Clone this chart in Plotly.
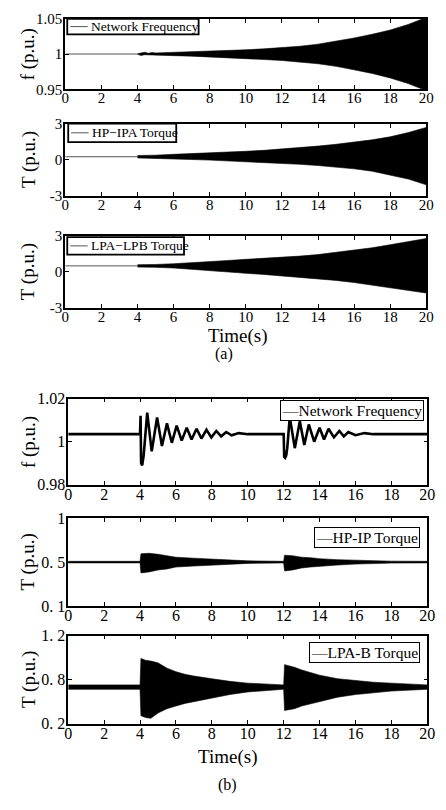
import plotly.graph_objects as go

W, H = 446, 810

# ---------------- data ----------------
# (a) growing oscillation: flat part then envelope
a_pre_t = [0, 4]
a1_pre = [1.0, 1.0]
a2_pre = [0.25, 0.25]
a3_pre = [0.5, 0.5]

a1_env_t = [4.0, 4.2, 4.4, 4.6, 4.8, 5.0, 6, 7, 8, 9, 10, 11, 12, 13, 14, 15, 16, 17, 18, 19, 20]
a1_upper = [1.0005, 1.001, 1.0025, 1.001, 1.002, 1.0015, 1.0023, 1.003, 1.0037, 1.0048, 1.006, 1.0073,
            1.0088, 1.011, 1.014, 1.018, 1.0227, 1.028, 1.034, 1.042, 1.052]
a1_lower = [0.9995, 0.998, 0.999, 0.9985, 0.999, 0.9985, 0.9977, 0.997, 0.996, 0.995, 0.9936, 0.9922,
            0.9908, 0.989, 0.9862, 0.9825, 0.9775, 0.9725, 0.966, 0.958, 0.948]

a_env_t = [4.0, 4.5, 5, 6, 7, 8, 9, 10, 11, 12, 13, 14, 15, 16, 17, 18, 19, 20]
a2_upper = [0.35, 0.35, 0.38, 0.45, 0.5, 0.55, 0.62, 0.7, 0.78, 0.88, 1.0, 1.13, 1.28, 1.45, 1.65, 1.9, 2.25, 2.68]
a2_lower = [0.15, 0.13, 0.1, 0.06, 0.02, -0.03, -0.09, -0.15, -0.22, -0.3, -0.38, -0.48, -0.6, -0.75, -0.95, -1.25, -1.6, -2.08]
a3_upper = [0.6, 0.6, 0.62, 0.68, 0.75, 0.85, 0.95, 1.05, 1.12, 1.2, 1.32, 1.45, 1.62, 1.8, 2.02, 2.28, 2.55, 2.8]
a3_lower = [0.4, 0.4, 0.38, 0.32, 0.22, 0.12, 0.0, -0.12, -0.22, -0.33, -0.45, -0.58, -0.72, -0.9, -1.1, -1.33, -1.55, -1.78]

# (b) damped oscillations after faults at 4 s and 12 s
b1_t = [0, 4.0, 4.03, 4.06, 4.12, 4.2, 4.4, 4.65, 4.95, 5.22, 5.5, 5.77, 6.04, 6.32, 6.6, 6.87, 7.15,
        7.42, 7.7, 7.97, 8.25, 8.52, 8.8, 9.1, 9.5, 10, 12.0, 12.03, 12.08, 12.14, 12.2, 12.34, 12.62,
        12.9, 13.15, 13.4, 13.7, 14.0, 14.25, 14.5, 14.8, 15.1, 15.35, 15.6, 16, 16.5, 17, 20]
b1_f = [1.0035, 1.0035, 1.012, 0.990, 0.989, 0.9935, 1.0135, 0.9955, 1.0112, 0.998, 1.0085, 0.9995,
        1.0075, 1.0005, 1.0065, 1.001, 1.006, 1.0015, 1.0055, 1.002, 1.005, 1.0025, 1.0045, 1.003,
        1.004, 1.0035, 1.0035, 0.993, 0.9925, 0.9935, 0.997, 1.0115, 0.997, 1.0095, 0.9985, 1.008,
        1.0, 1.0065, 1.001, 1.006, 1.002, 1.005, 1.0025, 1.0045, 1.003, 1.004, 1.0035, 1.0035]

b2_t = [0, 4.0, 4.05, 4.5, 5, 5.5, 6, 7, 8, 9, 10, 12.0, 12.05, 12.5, 13, 13.5, 14, 15, 16, 17, 18, 20]
b2_upper = [0.558, 0.558, 0.635, 0.64, 0.63, 0.615, 0.60, 0.59, 0.58, 0.57, 0.563, 0.558, 0.62, 0.615,
            0.60, 0.595, 0.585, 0.575, 0.568, 0.563, 0.56, 0.558]
b2_lower = [0.542, 0.542, 0.44, 0.45, 0.47, 0.48, 0.50, 0.51, 0.52, 0.53, 0.537, 0.542, 0.46, 0.47,
            0.49, 0.50, 0.51, 0.52, 0.53, 0.537, 0.54, 0.542]

b3_t = [0, 4.0, 4.05, 4.3, 4.6, 5, 5.5, 6, 6.5, 7, 8, 9, 10, 11, 12.0, 12.05, 12.3, 12.6, 13, 13.5,
        14, 15, 16, 17, 18, 19, 20]
b3_upper = [0.64, 0.64, 0.94, 0.92, 0.91, 0.89, 0.83, 0.79, 0.76, 0.74, 0.71, 0.68, 0.66, 0.65, 0.64,
            0.87, 0.86, 0.84, 0.81, 0.78, 0.75, 0.71, 0.69, 0.67, 0.66, 0.65, 0.64]
b3_lower = [0.59, 0.59, 0.29, 0.27, 0.26, 0.32, 0.37, 0.40, 0.43, 0.45, 0.49, 0.53, 0.56, 0.575, 0.59,
            0.35, 0.36, 0.37, 0.40, 0.43, 0.45, 0.50, 0.53, 0.55, 0.57, 0.58, 0.59]

x_ticks = [0, 2, 4, 6, 8, 10, 12, 14, 16, 18, 20]
a1_yticks, a1_ytext = [0.95, 1.0, 1.05], ["0.95", "1", "1.05"]
a2_yticks, a2_ytext = [-3, 0, 3], ["-3", "0", "3"]
b1_yticks, b1_ytext = [0.98, 1.0, 1.02], ["0.98", "1", "1.02"]
b2_yticks, b2_ytext = [0.1, 0.55, 1.0], ["0. 1", "0. 5", "1"]
b3_yticks, b3_ytext = [0.2, 0.7, 1.2], ["0. 2", "0. 8", "1. 2"]

legend_a = ["Network Frequency", "HP\u2212IPA Torque", "LPA\u2212LPB Torque"]
legend_b = ["\u2014Network Frequency", "\u2014HP-IP Torque", "\u2014LPA-B Torque"]

# ---------------- layout helpers ----------------
FONT = "Liberation Serif, Times New Roman, serif"
def px(x):
    return x / W
def py(y):
    return 1 - y / H

panels = [
    dict(x=(63, 434), y=(11, 83), yr=[0.95, 1.05], tv=a1_yticks, tt=a1_ytext, lw=2, tf=15),
    dict(x=(63, 434), y=(118, 192), yr=[-3, 3], tv=a2_yticks, tt=a2_ytext, lw=2, tf=15),
    dict(x=(63, 434), y=(233, 306), yr=[-3, 3], tv=a2_yticks, tt=a2_ytext, lw=2, tf=15),
    dict(x=(66, 435), y=(399, 487), yr=[0.98, 1.02], tv=b1_yticks, tt=b1_ytext, lw=1.5, tf=16),
    dict(x=(66, 435), y=(521, 611), yr=[0.1, 1.0], tv=b2_yticks, tt=b2_ytext, lw=1.5, tf=16),
    dict(x=(66, 435), y=(641, 731), yr=[0.2, 1.2], tv=b3_yticks, tt=b3_ytext, lw=1.5, tf=16),
]

fig = go.Figure()

def refs(i):
    return ("x" if i == 1 else f"x{i}"), ("y" if i == 1 else f"y{i}")

def add_env(i, t, up, lo):
    xr, yr = refs(i)
    fig.add_trace(go.Scatter(x=list(t) + list(t)[::-1], y=list(up) + list(lo)[::-1],
                             fill="toself", fillcolor="black", mode="lines",
                             line=dict(color="black", width=0.6), xaxis=xr, yaxis=yr,
                             showlegend=False, hoverinfo="skip"))

def add_line(i, t, v, color, width):
    xr, yr = refs(i)
    fig.add_trace(go.Scatter(x=t, y=v, mode="lines", line=dict(color=color, width=width),
                             xaxis=xr, yaxis=yr, showlegend=False))

add_line(1, a_pre_t, a1_pre, "#555555", 1)
add_env(1, a1_env_t, a1_upper, a1_lower)
add_line(2, a_pre_t, a2_pre, "#555555", 1)
add_env(2, a_env_t, a2_upper, a2_lower)
add_line(3, a_pre_t, a3_pre, "#555555", 1)
add_env(3, a_env_t, a3_upper, a3_lower)
add_line(4, b1_t, b1_f, "black", 2.6)
add_env(5, b2_t, b2_upper, b2_lower)
add_env(6, b3_t, b3_upper, b3_lower)

layout = dict(width=W, height=H, margin=dict(l=0, r=0, t=0, b=0),
              paper_bgcolor="white", plot_bgcolor="white", showlegend=False,
              font=dict(family=FONT, color="black"))
for i, p in enumerate(panels, start=1):
    xk = "xaxis" if i == 1 else f"xaxis{i}"
    yk = "yaxis" if i == 1 else f"yaxis{i}"
    xr, yr = refs(i)
    layout[xk] = dict(domain=[px(p["x"][0]), px(p["x"][1])], anchor=yr, range=[0, 20],
                      tickvals=x_ticks, ticks="inside", ticklen=4, tickwidth=1, tickcolor="black",
                      showline=True, linecolor="black", linewidth=p["lw"], mirror="ticks",
                      showgrid=False, zeroline=False, ticklabelstandoff=-6,
                      tickfont=dict(size=p["tf"], family=FONT))
    layout[yk] = dict(domain=[py(p["y"][1]), py(p["y"][0])], anchor=xr, range=p["yr"],
                      tickvals=p["tv"], ticktext=p["tt"], ticks="inside", ticklen=4, tickwidth=1,
                      tickcolor="black", showline=True, linecolor="black", linewidth=p["lw"],
                      mirror="ticks", showgrid=False, zeroline=False, ticklabelstandoff=-2,
                      tickfont=dict(size=p["tf"], family=FONT))
fig.update_layout(**layout)

ann = []
shapes = []
ytitles = ["f (p.u.)", "T (p.u.)", "T (p.u.)", "f (p.u.)", "T (p.u.)", "T (p.u.)"]
for p, t in zip(panels, ytitles):
    ann.append(dict(x=px(25), y=py((p["y"][0] + p["y"][1]) / 2), xref="paper", yref="paper",
                    text=t, textangle=-90, showarrow=False, font=dict(size=19, family=FONT),
                    xanchor="center", yanchor="middle"))

a_boxes = [(65, 200, 11, 27), (66, 177, 118, 137), (65, 185, 234, 252)]
for (x0, x1, y0, y1), txt in zip(a_boxes, legend_a):
    shapes.append(dict(type="rect", xref="paper", yref="paper", x0=px(x0), x1=px(x1), y0=py(y1), y1=py(y0),
                       fillcolor="white", line=dict(color="black", width=1.8), layer="above"))
    ym = (y0 + y1) / 2
    shapes.append(dict(type="line", xref="paper", yref="paper", x0=px(x0 + 3), x1=px(x0 + 21), y0=py(ym), y1=py(ym),
                       line=dict(color="#555555", width=1), layer="above"))
    ann.append(dict(x=px(x0 + 22), y=py(ym), xref="paper", yref="paper", text=txt, showarrow=False,
                    xanchor="left", yanchor="middle", font=dict(size=13.5, family=FONT)))

b_boxes = [(432, 400), (427, 530), (427, 648)]
for (xr_, yt), txt in zip(b_boxes, legend_b):
    ann.append(dict(x=px(xr_), y=py(yt), xref="paper", yref="paper", text=txt, showarrow=False,
                    xanchor="right", yanchor="top", font=dict(size=15.5, family=FONT),
                    bgcolor="white", bordercolor="black", borderwidth=1, borderpad=1))

ann.append(dict(x=px(240), y=py(335), xref="paper", yref="paper", text="Time(s)", showarrow=False,
                xanchor="center", yanchor="middle", font=dict(size=19, family=FONT)))
ann.append(dict(x=px(226), y=py(353), xref="paper", yref="paper", text="(a)", showarrow=False,
                xanchor="center", yanchor="middle", font=dict(size=16, family=FONT)))
ann.append(dict(x=px(230), y=py(765), xref="paper", yref="paper", text="Time(s)", showarrow=False,
                xanchor="center", yanchor="middle", font=dict(size=19, family=FONT)))
ann.append(dict(x=px(230), y=py(794), xref="paper", yref="paper", text="(b)", showarrow=False,
                xanchor="center", yanchor="middle", font=dict(size=16, family=FONT)))

fig.update_layout(annotations=ann, shapes=shapes)
fig.write_html("out.html", config={"displayModeBar": False},
               post_script="document.body.style.margin='0px';")
